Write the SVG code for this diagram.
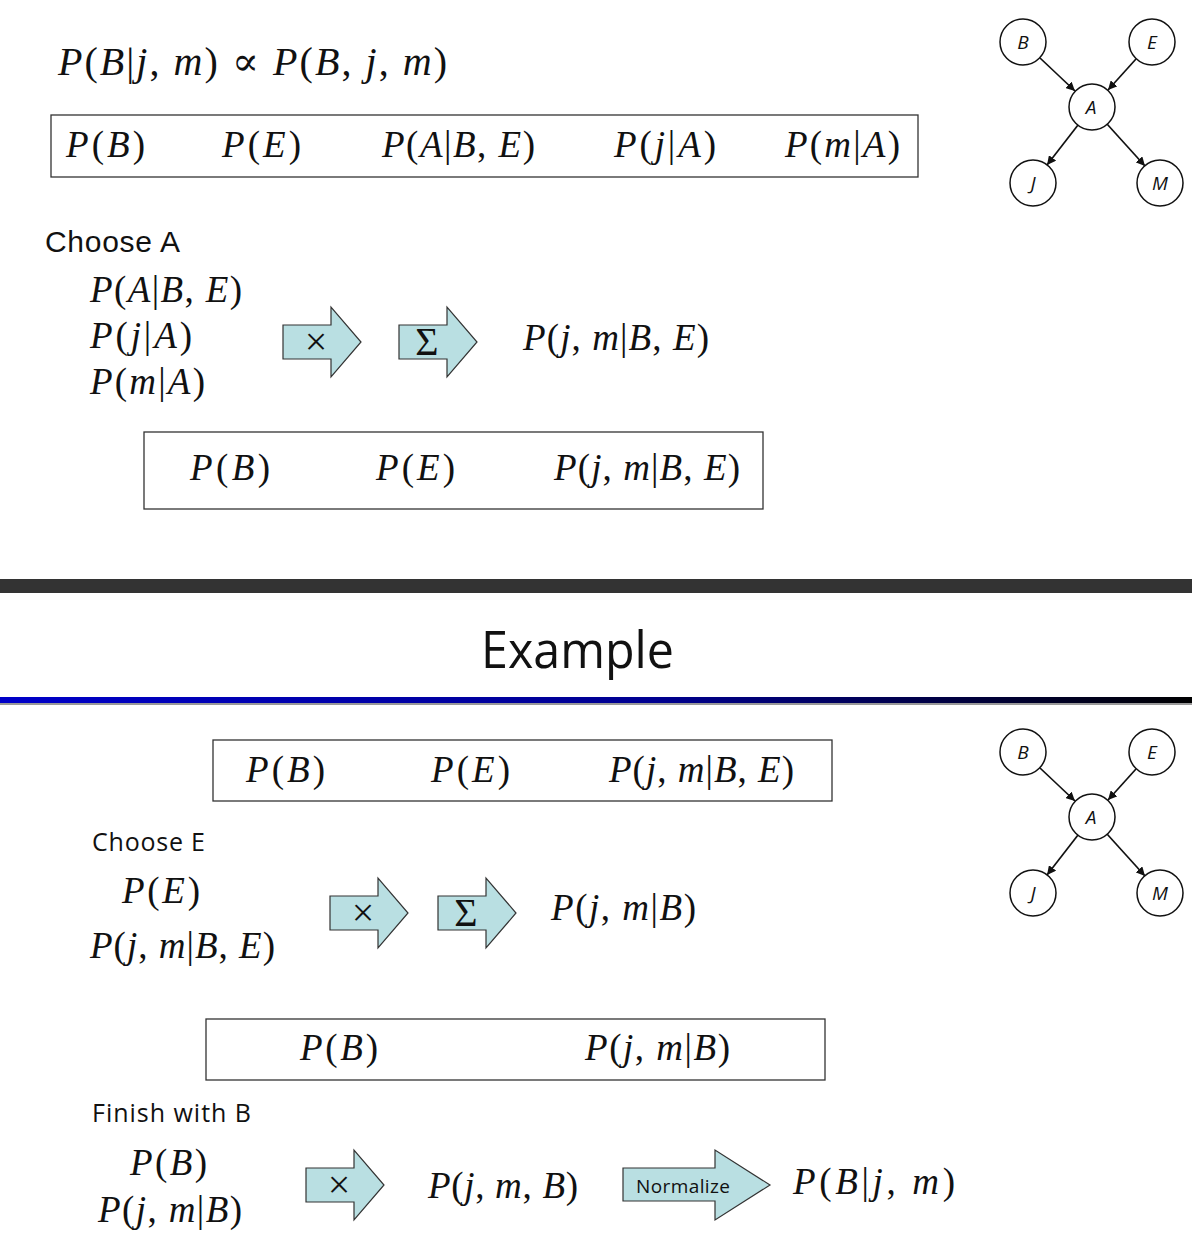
<svg xmlns="http://www.w3.org/2000/svg" width="1192" height="1252" viewBox="0 0 1192 1252">
<style>
.m{font-family:"Liberation Serif","DejaVu Serif",serif;font-size:37px;fill:#111}
.i{font-style:italic}
.box{fill:none;stroke:#333;stroke-width:1.3}
.nd{fill:#fff;stroke:#111;stroke-width:1.5}
.nl{font-family:"Open Sans","Liberation Sans",sans-serif;font-style:italic;font-size:19px;text-anchor:middle;fill:#111}
.ed{stroke:#111;stroke-width:1.7;fill:none;marker-end:url(#ah)}
.arr{fill:#b9dfe2;stroke:#333;stroke-width:1.2}
.sym{font-family:"Liberation Serif","DejaVu Serif",serif;font-size:40px;text-anchor:middle;fill:#111}
.lbl{font-family:"Open Sans","Liberation Sans",sans-serif;fill:#111}
</style>
<defs>
<marker id="ah" viewBox="0 0 10 10" refX="10" refY="5" markerWidth="9" markerHeight="9" orient="auto" markerUnits="userSpaceOnUse"><path d="M0,0 L10,5 L0,10 Z" fill="#111"/></marker>
<path id="bigArrow" d="M0,-17 H48 V-35 L78,0 L48,35 V17 H0 Z"/>
<linearGradient id="bl" x1="0" y1="0" x2="1" y2="0"><stop offset="0" stop-color="#0000c8"/><stop offset="0.55" stop-color="#000090"/><stop offset="1" stop-color="#000000"/></linearGradient>
</defs>

<!-- Top section -->
<text class="m" x="58" y="75" style="font-size:40px" textLength="389"><tspan class="i">P</tspan>(<tspan class="i">B</tspan>|<tspan class="i">j</tspan>, <tspan class="i">m</tspan>) ∝ <tspan class="i">P</tspan>(<tspan class="i">B</tspan>, <tspan class="i">j</tspan>, <tspan class="i">m</tspan>)</text>

<g id="box1">
<rect class="box" x="51" y="115" width="867" height="62"/>
<text class="m" x="66" y="157" textLength="79"><tspan class="i">P</tspan>(<tspan class="i">B</tspan>)</text>
<text class="m" x="222" y="157" textLength="79"><tspan class="i">P</tspan>(<tspan class="i">E</tspan>)</text>
<text class="m" x="382" y="157" textLength="153"><tspan class="i">P</tspan>(<tspan class="i">A</tspan>|<tspan class="i">B</tspan>, <tspan class="i">E</tspan>)</text>
<text class="m" x="614" y="157" textLength="102"><tspan class="i">P</tspan>(<tspan class="i">j</tspan>|<tspan class="i">A</tspan>)</text>
<text class="m" x="785" y="157" textLength="115"><tspan class="i">P</tspan>(<tspan class="i">m</tspan>|<tspan class="i">A</tspan>)</text>
</g>

<g id="network1">
<g id="edges1">
<line class="ed" x1="1040" y1="58" x2="1075" y2="91"/>
<line class="ed" x1="1136" y1="59" x2="1108" y2="90"/>
<line class="ed" x1="1078" y1="125" x2="1047" y2="165"/>
<line class="ed" x1="1107" y1="124" x2="1145" y2="166"/>
</g>
<g id="n1B"><circle class="nd" cx="1023" cy="42" r="23"/><text class="nl" x="1023" y="49">B</text></g>
<g id="n1E"><circle class="nd" cx="1152" cy="42" r="23"/><text class="nl" x="1152" y="49">E</text></g>
<g id="n1A"><circle class="nd" cx="1092" cy="107" r="23"/><text class="nl" x="1091" y="114">A</text></g>
<g id="n1J"><circle class="nd" cx="1033" cy="183" r="23"/><text class="nl" x="1033" y="190">J</text></g>
<g id="n1M"><circle class="nd" cx="1160" cy="183" r="23"/><text class="nl" x="1160" y="190">M</text></g>
</g>

<text class="lbl" x="45" y="252" style="font-family:'Liberation Sans',Arial,sans-serif;font-size:30px" textLength="135">Choose A</text>

<g id="chooseA">
<text class="m" x="90" y="302" textLength="152"><tspan class="i">P</tspan>(<tspan class="i">A</tspan>|<tspan class="i">B</tspan>, <tspan class="i">E</tspan>)</text>
<text class="m" x="90" y="348" textLength="102"><tspan class="i">P</tspan>(<tspan class="i">j</tspan>|<tspan class="i">A</tspan>)</text>
<text class="m" x="90" y="394" textLength="115"><tspan class="i">P</tspan>(<tspan class="i">m</tspan>|<tspan class="i">A</tspan>)</text>
</g>
<g id="arrowA1"><use href="#bigArrow" class="arr" transform="translate(283,342)"/><text class="sym" x="316" y="355">×</text></g>
<g id="arrowA2"><use href="#bigArrow" class="arr" transform="translate(399,342)"/><text class="sym" x="427" y="355">Σ</text></g>
<text class="m" x="523" y="350" textLength="186"><tspan class="i">P</tspan>(<tspan class="i">j</tspan>, <tspan class="i">m</tspan>|<tspan class="i">B</tspan>, <tspan class="i">E</tspan>)</text>

<g id="box2">
<rect class="box" x="144" y="432" width="619" height="77"/>
<text class="m" x="190" y="480" textLength="80"><tspan class="i">P</tspan>(<tspan class="i">B</tspan>)</text>
<text class="m" x="376" y="480" textLength="79"><tspan class="i">P</tspan>(<tspan class="i">E</tspan>)</text>
<text class="m" x="554" y="480" textLength="186"><tspan class="i">P</tspan>(<tspan class="i">j</tspan>, <tspan class="i">m</tspan>|<tspan class="i">B</tspan>, <tspan class="i">E</tspan>)</text>
</g>

<!-- Separator -->
<rect x="0" y="579" width="1192" height="14" fill="#333"/>
<text class="lbl" x="481" y="668" style="font-size:52px" textLength="193" lengthAdjust="spacingAndGlyphs">Example</text>
<rect x="0" y="697" width="1192" height="6" fill="url(#bl)"/>
<rect x="0" y="703" width="1192" height="2" fill="#999"/>

<!-- Bottom section -->
<g id="box3">
<rect class="box" x="213" y="740" width="619" height="61"/>
<text class="m" x="246" y="782" textLength="79"><tspan class="i">P</tspan>(<tspan class="i">B</tspan>)</text>
<text class="m" x="431" y="782" textLength="79"><tspan class="i">P</tspan>(<tspan class="i">E</tspan>)</text>
<text class="m" x="609" y="782" textLength="185"><tspan class="i">P</tspan>(<tspan class="i">j</tspan>, <tspan class="i">m</tspan>|<tspan class="i">B</tspan>, <tspan class="i">E</tspan>)</text>
</g>

<g id="network2" transform="translate(0,710)">
<g id="edges2">
<line class="ed" x1="1040" y1="58" x2="1075" y2="91"/>
<line class="ed" x1="1136" y1="59" x2="1108" y2="90"/>
<line class="ed" x1="1078" y1="125" x2="1047" y2="165"/>
<line class="ed" x1="1107" y1="124" x2="1145" y2="166"/>
</g>
<g id="n2B"><circle class="nd" cx="1023" cy="42" r="23"/><text class="nl" x="1023" y="49">B</text></g>
<g id="n2E"><circle class="nd" cx="1152" cy="42" r="23"/><text class="nl" x="1152" y="49">E</text></g>
<g id="n2A"><circle class="nd" cx="1092" cy="107" r="23"/><text class="nl" x="1091" y="114">A</text></g>
<g id="n2J"><circle class="nd" cx="1033" cy="183" r="23"/><text class="nl" x="1033" y="190">J</text></g>
<g id="n2M"><circle class="nd" cx="1160" cy="183" r="23"/><text class="nl" x="1160" y="190">M</text></g>
</g>

<text class="lbl" x="92" y="851" style="font-size:25px" textLength="113">Choose E</text>
<g id="chooseE">
<text class="m" x="122" y="903" textLength="78"><tspan class="i">P</tspan>(<tspan class="i">E</tspan>)</text>
<text class="m" x="90" y="958" textLength="185"><tspan class="i">P</tspan>(<tspan class="i">j</tspan>, <tspan class="i">m</tspan>|<tspan class="i">B</tspan>, <tspan class="i">E</tspan>)</text>
</g>
<g id="arrowE1"><use href="#bigArrow" class="arr" transform="translate(330,913)"/><text class="sym" x="363" y="926">×</text></g>
<g id="arrowE2"><use href="#bigArrow" class="arr" transform="translate(438,913)"/><text class="sym" x="466" y="926">Σ</text></g>
<text class="m" x="551" y="920" textLength="145"><tspan class="i">P</tspan>(<tspan class="i">j</tspan>, <tspan class="i">m</tspan>|<tspan class="i">B</tspan>)</text>

<g id="box4">
<rect class="box" x="206" y="1019" width="619" height="61"/>
<text class="m" x="300" y="1060" textLength="78"><tspan class="i">P</tspan>(<tspan class="i">B</tspan>)</text>
<text class="m" x="585" y="1060" textLength="145"><tspan class="i">P</tspan>(<tspan class="i">j</tspan>, <tspan class="i">m</tspan>|<tspan class="i">B</tspan>)</text>
</g>

<text class="lbl" x="92" y="1122" style="font-size:25px" textLength="159">Finish with B</text>
<g id="finishB">
<text class="m" x="130" y="1175" textLength="77"><tspan class="i">P</tspan>(<tspan class="i">B</tspan>)</text>
<text class="m" x="98" y="1222" textLength="144"><tspan class="i">P</tspan>(<tspan class="i">j</tspan>, <tspan class="i">m</tspan>|<tspan class="i">B</tspan>)</text>
</g>
<g id="arrowB1"><use href="#bigArrow" class="arr" transform="translate(306,1185)"/><text class="sym" x="339" y="1198">×</text></g>
<text class="m" x="428" y="1198" textLength="150"><tspan class="i">P</tspan>(<tspan class="i">j</tspan>, <tspan class="i">m</tspan>, <tspan class="i">B</tspan>)</text>
<g id="normalize">
<path class="arr" d="M623,1168 H715 V1150 L770,1185 L715,1220 V1201 H623 Z"/>
<text class="lbl" x="636" y="1193" style="font-size:19px" textLength="94">Normalize</text>
</g>
<text class="m" x="793" y="1194" textLength="162"><tspan class="i">P</tspan>(<tspan class="i">B</tspan>|<tspan class="i">j</tspan>, <tspan class="i">m</tspan>)</text>
</svg>
